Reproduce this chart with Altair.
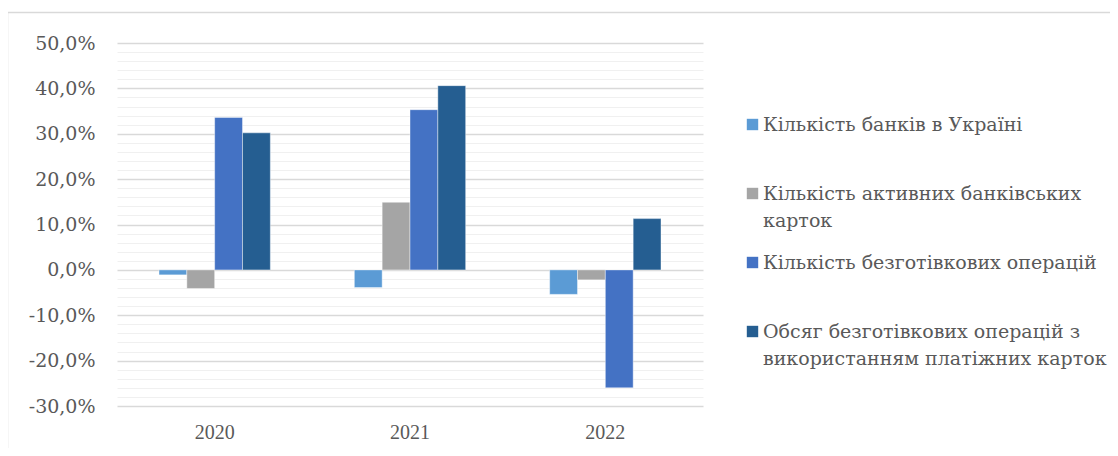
import altair as alt
import pandas as pd

years = ["2020", "2021", "2022"]
series = [
    "Кількість банків в Україні",
    "Кількість активних банківських карток",
    "Кількість безготівкових операцій",
    "Обсяг безготівкових операцій з використанням платіжних карток",
]
banks = [-1.1, -3.9, -5.4]
cards = [-4.1, 14.9, -2.2]
ops = [33.6, 35.3, -26.0]
volume = [30.2, 40.6, 11.3]
colors = ["#5B9BD5", "#A5A5A5", "#4472C4", "#255E91"]
legend_lines = [
    ["Кількість банків в Україні", ""],
    ["Кількість активних банківських", "карток"],
    ["Кількість безготівкових операцій", ""],
    ["Обсяг безготівкових операцій з", "використанням платіжних карток"],
]
y_ticks = [v / 100 for v in range(-30, 51, 2)]

rows = []
for s, vals in zip(series, [banks, cards, ops, volume]):
    for yr, v in zip(years, vals):
        rows.append({"year": yr, "series": s, "value": v / 100})
df = pd.DataFrame(rows)

FONT_X = "Liberation Serif"
FONT_G = "DejaVu Serif"
TXT = "#595959"

label_expr = ""
for name, lines in zip(series, legend_lines):
    arr = "[" + ", ".join("'" + l + "'" for l in lines) + "]"
    label_expr += f"datum.label == '{name}' ? {arr} : "
label_expr += "datum.label"

major_test = "abs(round(datum.value * 100)) % 10 == 0"

bars = alt.Chart(df).mark_bar(stroke="white", strokeWidth=0.7, strokeOpacity=0.6).encode(
    x=alt.X(
        "year:N",
        sort=years,
        scale=alt.Scale(paddingInner=0.43, paddingOuter=0.215),
        axis=alt.Axis(
            title=None, labelAngle=0, ticks=False, domain=False, grid=False,
            labelPadding=16, labelFont=FONT_X, labelFontSize=20, labelColor=TXT,
        ),
    ),
    xOffset=alt.XOffset("series:N", sort=series, scale=alt.Scale(paddingInner=0, paddingOuter=0)),
    y=alt.Y(
        "value:Q",
        scale=alt.Scale(domain=[-0.30, 0.50], nice=False, zero=False),
        axis=alt.Axis(
            title=None, values=y_ticks, format=".1%", ticks=False, domain=False,
            labelOverlap=False, labelBound=False,
            labelOpacity={"condition": {"test": major_test, "value": 1}, "value": 0},
            grid=True,
            gridColor={"condition": {"test": major_test, "value": "#d9d9d9"}, "value": "#f0f0f0"},
            gridWidth={"condition": {"test": major_test, "value": 1.3}, "value": 1},
            labelPadding=22, labelFont=FONT_G, labelFontSize=19, labelColor=TXT,
        ),
    ),
    color=alt.Color(
        "series:N",
        sort=series,
        scale=alt.Scale(domain=series, range=colors),
        legend=alt.Legend(
            title=None, orient="none", legendX=626, legendY=72,
            symbolType="square", symbolSize=130, symbolStrokeWidth=0,
            labelFont=FONT_G, labelFontSize=19, labelColor=TXT, labelLimit=600,
            labelOffset=1, rowPadding=22, labelExpr=label_expr,
        ),
    ),
)

border = alt.Chart(alt.Data(values=[{"b": 1}])).mark_rect(
    fillOpacity=0, stroke="#d9d9d9", strokeWidth=1.5, clip=False
).encode(
    x=alt.value(-109.5), x2=alt.value(1020), y=alt.value(-30.5), y2=alt.value(440)
)

chart = alt.layer(border, bars).properties(
    width=586, height=363,
    padding={"left": 109, "top": 35, "right": 407, "bottom": 42},
    autosize="none",
).configure(
    locale={"number": {"decimal": ",", "thousands": " ", "grouping": [3],
                       "currency": ["", ""], "minus": "-", "percent": "%"}},
    style={"guide-label": {"lineHeight": 27}},
).configure_view(strokeWidth=0)

chart.save("out.html", embed_options={"renderer": "svg", "actions": False})
